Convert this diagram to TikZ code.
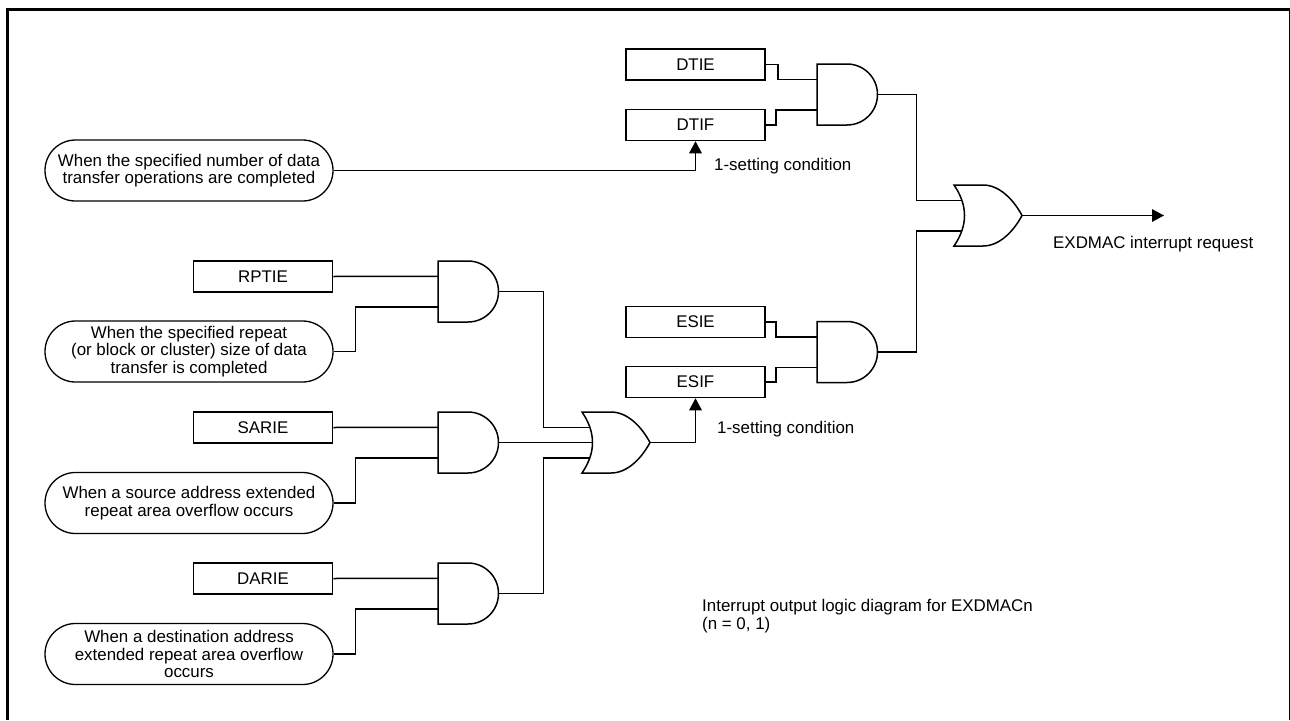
\documentclass[tikz,border=0pt]{standalone}
\usepackage{fontspec}
\setmainfont{Liberation Sans}
\usetikzlibrary{shapes.misc,arrows.meta}
\tikzset{
  wire/.style={line width=1.5pt,line join=miter},
  arrowwire/.style={wire,-{Triangle[length=12pt,width=12.5pt]}},
  flagbox/.style={draw,line width=1.5pt,rectangle,minimum width=139pt,minimum height=31pt,inner sep=0pt,font=\fontsize{16.9}{17.3}\selectfont},
  cond/.style={draw,line width=1.3pt,rounded rectangle,minimum width=288pt,minimum height=61pt,inner sep=0pt,align=center,font=\fontsize{16.9}{17.3}\selectfont},
  lbl/.style={inner sep=0pt,anchor=west,align=left,font=\fontsize{16.9}{17.3}\selectfont},
  gatebody/.style={minimum width=60pt,minimum height=61pt,inner sep=0pt,draw=none},
}
\newcommand{\andgate}[3]{%
  \node[gatebody] (#1) at (#2,#3) {};
  \begin{scope}[shift={(#2,#3)}]
    \draw[wire] (-30,-30.5) -- (0,-30.5) arc[start angle=90,end angle=-90,radius=30.5pt] -- (-30,30.5) -- cycle;
    \coordinate (#1-in1) at (-30,-15.25);
    \coordinate (#1-in2) at (-30,15.25);
    \coordinate (#1-out) at (30.5,0);
  \end{scope}}
\newcommand{\orgate}[3]{%
  \node[gatebody] (#1) at (#2,#3) {};
  \begin{scope}[shift={(#2,#3)}]
    \draw[wire] (-34,-30.5) -- (-5,-30.5) .. controls (12,-30.5) and (26,-15) .. (34,0) .. controls (26,15) and (12,30.5) .. (-5,30.5) -- (-34,30.5) .. controls (-20,10) and (-20,-10) .. (-34,-30.5) -- cycle;
    \coordinate (#1-in1) at (-26,-15.25);
    \coordinate (#1-in2) at (-23,0);
    \coordinate (#1-in3) at (-26,15.25);
    \coordinate (#1-out) at (34,0);
  \end{scope}}
\begin{document}
\begin{tikzpicture}[x=1pt,y=-1pt]
\useasboundingbox (0,0) rectangle (1290,720);
\fill[white] (0,0) rectangle (1290,720);
\draw[line width=3pt] (7.5,720) -- (7.5,9.5) -- (1290.5,9.5) -- (1290.5,720);

% flags
\node[flagbox] (dtie) at (695.5,64.5) {DTIE};
\node[flagbox] (dtif) at (695.5,125) {DTIF};
\node[flagbox] (esie) at (695.5,322) {ESIE};
\node[flagbox] (esif) at (695.5,382) {ESIF};
\node[flagbox] (rptie) at (263,276.5) {RPTIE};
\node[flagbox] (sarie) at (263,427.5) {SARIE};
\node[flagbox] (darie) at (263,578.5) {DARIE};

% conditions
\node[cond] (cdt) at (189,170.5) {When the specified number of data\\transfer operations are completed};
\node[cond] (crp) at (189,351.5) {When the specified repeat\\(or block or cluster) size of data\\transfer is completed};
\node[cond] (csa) at (189,503) {When a source address extended\\repeat area overflow occurs};
\node[cond] (cda) at (189,654) {When a destination address\\extended repeat area overflow\\occurs};

% gates
\andgate{gdt}{847}{94.5}
\andgate{ges}{847}{352}
\andgate{grp}{468}{291.5}
\andgate{gsa}{468}{442.5}
\andgate{gda}{468}{593.5}
\orgate{orout}{988}{215.5}
\orgate{ormid}{616}{442.5}

% wires
\draw[wire] (dtie.east) -- ++(12,0) |- (gdt-in1);
\draw[wire] (dtif.east) -- ++(10,0) |- (gdt-in2);
\draw[wire] (esie.east) -- ++(10,0) |- (ges-in1);
\draw[wire] (esif.east) -- ++(10,0) |- (ges-in2);
\draw[wire] (rptie.east) -- (grp-in1);
\draw[wire] (crp.east) -- ++(22,0) |- (grp-in2);
\draw[wire] (sarie.east) -- (gsa-in1);
\draw[wire] (csa.east) -- ++(22,0) |- (gsa-in2);
\draw[wire] (darie.east) -- (gda-in1);
\draw[wire] (cda.east) -- ++(22,0) |- (gda-in2);
\draw[wire] (grp-out) -- ++(45,0) |- (ormid-in1);
\draw[wire] (gsa-out) -- (ormid-in2);
\draw[wire] (gda-out) -- ++(45,0) |- (ormid-in3);
\draw[wire] (gdt-out) -- ++(39,0) |- (orout-in1);
\draw[wire] (ges-out) -- ++(39,0) |- (orout-in3);
\draw[arrowwire] (cdt.east) -| (dtif.south);
\draw[arrowwire] (ormid-out) -| (esif.south);
\coordinate (irq) at (1164,215.5);
\draw[arrowwire] (orout-out) -- (irq);

% labels
\node[lbl] (l1) at (714,166) {1-setting condition};
\node[lbl] (l2) at (717,429) {1-setting condition};
\node[lbl] (l3) at (1053,244) {EXDMAC interrupt request};
\node[lbl] (l4) at (702,616) {Interrupt output logic diagram for EXDMACn\\(n = 0, 1)};
\end{tikzpicture}
\end{document}
